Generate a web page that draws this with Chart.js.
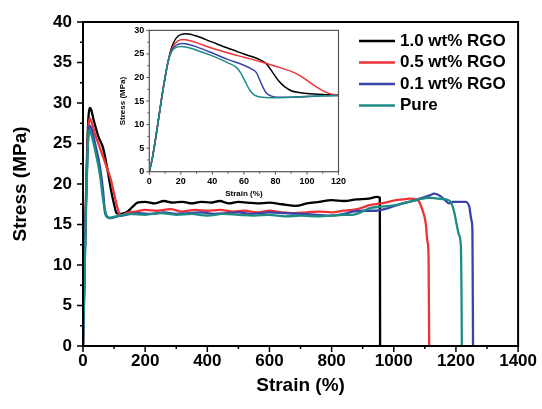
<!DOCTYPE html>
<html>
<head>
<meta charset="utf-8">
<script src="https://cdn.jsdelivr.net/npm/chart.js@4"></script>
<style>
html, body { margin:0; padding:0; background:#fff; }
#wrap { position:relative; width:542px; height:409px; }
#main { position:absolute; left:0; top:0; }
#inset { position:absolute; left:100px; top:20px; }
</style>
</head>
<body>
<div id="wrap">
<canvas id="main" width="542" height="409"></canvas>
<canvas id="inset" width="250" height="185"></canvas>
</div>
<script>
// data: strain (%) and stress (MPa)

const seriesLabels = ['1.0 wt% RGO', '0.5 wt% RGO', '0.1 wt% RGO', 'Pure'];
const seriesColors = ['#000000', '#ee3336', '#3a44a8', '#1e8c84'];

// main plot
const strainBlack = [0, 3, 6, 10, 14, 18, 22, 26, 35, 50, 65, 80, 90, 100, 108, 120, 140, 160, 175, 200, 230, 260, 290, 320, 350, 380, 410, 440, 470, 500, 530, 560, 600, 640, 685, 720, 760, 800, 840, 880, 920, 945, 955, 956];
const stressBlack = [0, 6, 12, 19, 25, 28.5, 29.4, 29.2, 27.8, 25.8, 24.4, 21.5, 19.3, 17.5, 16.4, 16.3, 16.5, 17.2, 17.7, 17.8, 17.6, 17.9, 17.7, 17.8, 17.6, 17.8, 17.7, 17.9, 17.6, 17.8, 17.7, 17.6, 17.7, 17.5, 17.3, 17.6, 17.8, 18.0, 17.9, 18.1, 18.2, 18.4, 18.3, 0];

const strainRed = [0, 3, 6, 10, 14, 18, 22, 27, 40, 55, 76, 90, 97, 108, 116, 125, 140, 170, 200, 240, 280, 320, 360, 400, 440, 480, 520, 560, 600, 640, 680, 720, 760, 800, 840, 867, 900, 921, 960, 1007, 1030, 1050, 1071, 1082, 1092, 1103, 1108, 1112, 1113, 1114];
const stressRed = [0, 5.5, 11.5, 18.5, 24, 27.3, 28.1, 27.7, 26, 24.4, 22.1, 20.5, 19.3, 17.5, 16.4, 16.1, 16.4, 16.6, 16.8, 16.7, 16.9, 16.6, 16.8, 16.7, 16.8, 16.6, 16.7, 16.5, 16.7, 16.5, 16.4, 16.5, 16.6, 16.5, 16.7, 16.8, 17.1, 17.4, 17.6, 18.0, 18.1, 18.2, 18.1, 17.8, 16.8, 15.1, 13, 11, 5, 0];

const strainBlue = [0, 3, 6, 10, 14, 18, 22, 27, 40, 55, 65, 71, 80, 90, 110, 140, 180, 220, 260, 300, 340, 380, 420, 460, 500, 540, 600, 650, 707, 750, 800, 840, 867, 900, 943, 980, 1028, 1060, 1092, 1115, 1130, 1150, 1165, 1178, 1190, 1210, 1230, 1243, 1250, 1253, 1254, 1255];
const stressBlue = [0, 5.5, 11, 18, 23.5, 26.6, 27.2, 26.8, 24.8, 22, 19, 16.4, 15.9, 15.8, 16, 16.2, 16.4, 16.3, 16.5, 16.3, 16.4, 16.5, 16.3, 16.4, 16.5, 16.3, 16.5, 16.4, 16.3, 16.2, 16.1, 16.3, 16.6, 16.7, 16.7, 17.0, 17.6, 17.9, 18.3, 18.6, 18.8, 18.5, 18.0, 17.6, 17.8, 17.8, 17.8, 17.2, 15.5, 14.3, 8, 0];

const strainTeal = [0, 3, 6, 10, 14, 18, 22, 27, 40, 55, 65, 75, 84, 95, 120, 150, 200, 250, 300, 350, 400, 450, 500, 550, 600, 650, 700, 761, 800, 840, 867, 900, 921, 960, 1007, 1040, 1082, 1114, 1140, 1168, 1183, 1194, 1205, 1210, 1216, 1218, 1219];
const stressTeal = [0, 5, 10.5, 17.5, 23, 26.2, 26.6, 26.1, 24, 21, 18, 16.2, 15.8, 15.9, 16.1, 16.3, 16.2, 16.4, 16.2, 16.3, 16.1, 16.3, 16.2, 16.1, 16.2, 16.0, 16.1, 16.0, 16.1, 16.2, 16.2, 16.6, 17.0, 17.2, 17.4, 17.7, 18.1, 18.3, 18.2, 18.1, 17.8, 16.6, 14.5, 13.7, 12.3, 6, 0];

// inset (first 120 % of strain)
const insetStrainBlack = [0, 2, 4, 6, 8, 10, 12, 14, 16, 18, 20, 23, 26, 30, 40, 50, 60, 70, 74, 78, 82, 86, 90, 95, 100, 110, 120];
const insetStressBlack = [0, 3, 7, 11.5, 16, 20, 23.5, 26.2, 27.8, 28.7, 29.1, 29.3, 29.2, 28.8, 27.5, 26.2, 25.0, 23.8, 23.0, 21.2, 19.3, 18.0, 17.2, 16.8, 16.6, 16.4, 16.3];

const insetStrainRed = [0, 2, 4, 6, 8, 10, 12, 14, 16, 18, 20, 23, 26, 30, 40, 50, 60, 70, 80, 90, 95, 100, 105, 110, 115, 120];
const insetStressRed = [0, 3, 7, 11.5, 16, 20, 23.5, 25.8, 27.1, 27.7, 28, 28, 27.8, 27.4, 26.2, 25.2, 24.3, 23.4, 22.4, 21.3, 20.5, 19.4, 18.2, 17.2, 16.5, 16.3];

const insetStrainBlue = [0, 2, 4, 6, 8, 10, 12, 14, 16, 18, 21, 25, 30, 40, 50, 60, 65, 68, 70, 72, 74, 77, 82, 90, 100, 110, 120];
const insetStressBlue = [0, 3, 7, 11.5, 16, 20, 23.5, 25.6, 26.6, 27, 27.2, 27, 26.5, 25.2, 23.8, 22.6, 21.8, 21, 19.5, 18, 16.8, 16.1, 15.8, 15.8, 15.9, 16.1, 16.2];

const insetStrainTeal = [0, 2, 4, 6, 8, 10, 12, 14, 16, 18, 20, 24, 30, 40, 50, 55, 58, 61, 64, 67, 72, 80, 90, 100, 110, 120];
const insetStressTeal = [0, 3, 7, 11.5, 16, 20, 23.5, 25.4, 26.2, 26.5, 26.6, 26.4, 25.8, 24.6, 23.1, 22.2, 21, 19, 17.2, 16.2, 15.8, 15.7, 15.8, 16, 16.1, 16.2];

const mainXTicks = [0, 200, 400, 600, 800, 1000, 1200, 1400];
const mainYTicks = [0, 5, 10, 15, 20, 25, 30, 35, 40];

const FONT = "'Liberation Sans', Arial, sans-serif";

function pts(xs, ys) {
    return xs.map((x, i) => ({x: x, y: ys[i]}));
}

// box round the plot area plus outward major/minor ticks
const frameTicks = {
    id: 'frameTicks',
    afterDraw(chart, args, o) {
        const {ctx, chartArea: a} = chart;
        const x = chart.scales.x, y = chart.scales.y;
        ctx.save();
        ctx.strokeStyle = o.color;
        ctx.lineWidth = o.tickWidth;
        ctx.beginPath();
        for (let v = x.min; v <= x.max + 1e-9; v += o.xMinor) {
            const px = x.getPixelForValue(v);
            const major = Math.abs(v / o.xMajor - Math.round(v / o.xMajor)) < 1e-6;
            ctx.moveTo(px, a.bottom);
            ctx.lineTo(px, a.bottom + (major ? o.major : o.minor));
        }
        for (let v = y.min; v <= y.max + 1e-9; v += o.yMinor) {
            const py = y.getPixelForValue(v);
            const major = Math.abs(v / o.yMajor - Math.round(v / o.yMajor)) < 1e-6;
            ctx.moveTo(a.left, py);
            ctx.lineTo(a.left - (major ? o.major : o.minor), py);
        }
        ctx.stroke();
        ctx.lineWidth = o.width;
        ctx.strokeRect(a.left, a.top, a.right - a.left, a.bottom - a.top);
        ctx.restore();
    }
};

// legend drawn inside the plot, top right
const boxLegend = {
    id: 'boxLegend',
    afterDraw(chart, args, o) {
        if (!o.show) return;
        const ctx = chart.ctx;
        ctx.save();
        ctx.font = 'bold 17px ' + FONT;
        ctx.textBaseline = 'middle';
        chart.data.datasets.forEach((ds, i) => {
            const yy = o.y + i * o.gap;
            ctx.strokeStyle = ds.borderColor;
            ctx.lineWidth = 2.5;
            ctx.beginPath();
            ctx.moveTo(o.x, yy);
            ctx.lineTo(o.x + o.len, yy);
            ctx.stroke();
            ctx.fillStyle = '#000';
            ctx.fillText(ds.label, o.x + o.len + 5, yy);
        });
        ctx.restore();
    }
};

function makeSets(xsList, ysList, width) {
    return xsList.map((xs, i) => ({
        label: seriesLabels[i],
        data: pts(xs, ysList[i]),
        borderColor: seriesColors[i],
        backgroundColor: seriesColors[i],
        borderWidth: width,
        pointRadius: 0,
        cubicInterpolationMode: 'monotone',
        order: 3 - i
    }));
}

const plainNum = v => String(v);

let mainChart = new Chart(document.querySelector('#main').getContext('2d'), {
    type: 'line',
    data: {
        datasets: makeSets([strainBlack, strainRed, strainBlue, strainTeal],
                           [stressBlack, stressRed, stressBlue, stressTeal], 2.3)
    },
    options: {
        responsive: false,
        animation: false,
        layout: {padding: {top: 22, right: 22, left: 0, bottom: 0}},
        plugins: {
            legend: {display: false},
            tooltip: {enabled: false},
            frameTicks: {color: '#000', width: 2, tickWidth: 1.5, major: 6, minor: 3,
                         xMajor: 200, xMinor: 100, yMajor: 5, yMinor: 2.5},
            boxLegend: {show: true, x: 359, y: 41, gap: 21.5, len: 36}
        },
        scales: {
            x: {
                type: 'linear', min: 0, max: 1400,
                afterFit(s) { s.height = 63; },
                afterBuildTicks(s) { s.ticks = mainXTicks.map(v => ({value: v})); },
                grid: {display: false, drawTicks: false},
                border: {display: false},
                ticks: {padding: 5, color: '#000', callback: plainNum,
                        font: {family: FONT, size: 17, weight: 'bold'}},
                title: {display: true, text: 'Strain (%)', color: '#000',
                        font: {family: FONT, size: 19, weight: 'bold'}, padding: {top: 0, bottom: 12}}
            },
            y: {
                type: 'linear', min: 0, max: 40,
                afterFit(s) { s.width = 83; },
                afterBuildTicks(s) { s.ticks = mainYTicks.map(v => ({value: v})); },
                grid: {display: false, drawTicks: false},
                border: {display: false},
                ticks: {padding: 11, color: '#000', callback: plainNum,
                        font: {family: FONT, size: 17, weight: 'bold'}},
                title: {display: true, text: 'Stress (MPa)', color: '#000',
                        font: {family: FONT, size: 19, weight: 'bold'}, padding: {top: 9, bottom: 0}}
            }
        }
    },
    plugins: [frameTicks, boxLegend]
});

let insetChart = new Chart(document.querySelector('#inset').getContext('2d'), {
    type: 'line',
    data: {
        datasets: makeSets([insetStrainBlack, insetStrainRed, insetStrainBlue, insetStrainTeal],
                           [insetStressBlack, insetStressRed, insetStressBlue, insetStressTeal], 1.5)
    },
    options: {
        responsive: false,
        animation: false,
        layout: {padding: {top: 10, right: 10.7, left: 0, bottom: 0}},
        plugins: {
            legend: {display: false},
            tooltip: {enabled: false},
            frameTicks: {color: '#555', width: 1.2, tickWidth: 1, major: 3, minor: 2,
                         xMajor: 20, xMinor: 10, yMajor: 5, yMinor: 2.5},
            boxLegend: {show: false}
        },
        scales: {
            x: {
                type: 'linear', min: 0, max: 120,
                afterFit(s) { s.height = 33.3; },
                grid: {display: false, drawTicks: false},
                border: {display: false},
                ticks: {stepSize: 20, padding: 4, color: '#000', font: {family: FONT, size: 9, weight: 'bold'}},
                title: {display: true, text: 'Strain (%)', color: '#000',
                        font: {family: FONT, size: 8, weight: 'bold'}, padding: {top: 0, bottom: 6}}
            },
            y: {
                type: 'linear', min: 0, max: 30,
                afterFit(s) { s.width = 49.3; },
                grid: {display: false, drawTicks: false},
                border: {display: false},
                ticks: {stepSize: 5, padding: 5, color: '#000', font: {family: FONT, size: 9, weight: 'bold'}},
                title: {display: true, text: 'Stress (MPa)', color: '#000',
                        font: {family: FONT, size: 8, weight: 'bold'}, padding: {top: 18, bottom: 0}}
            }
        }
    },
    plugins: [frameTicks, boxLegend]
});
</script>
</body>
</html>
